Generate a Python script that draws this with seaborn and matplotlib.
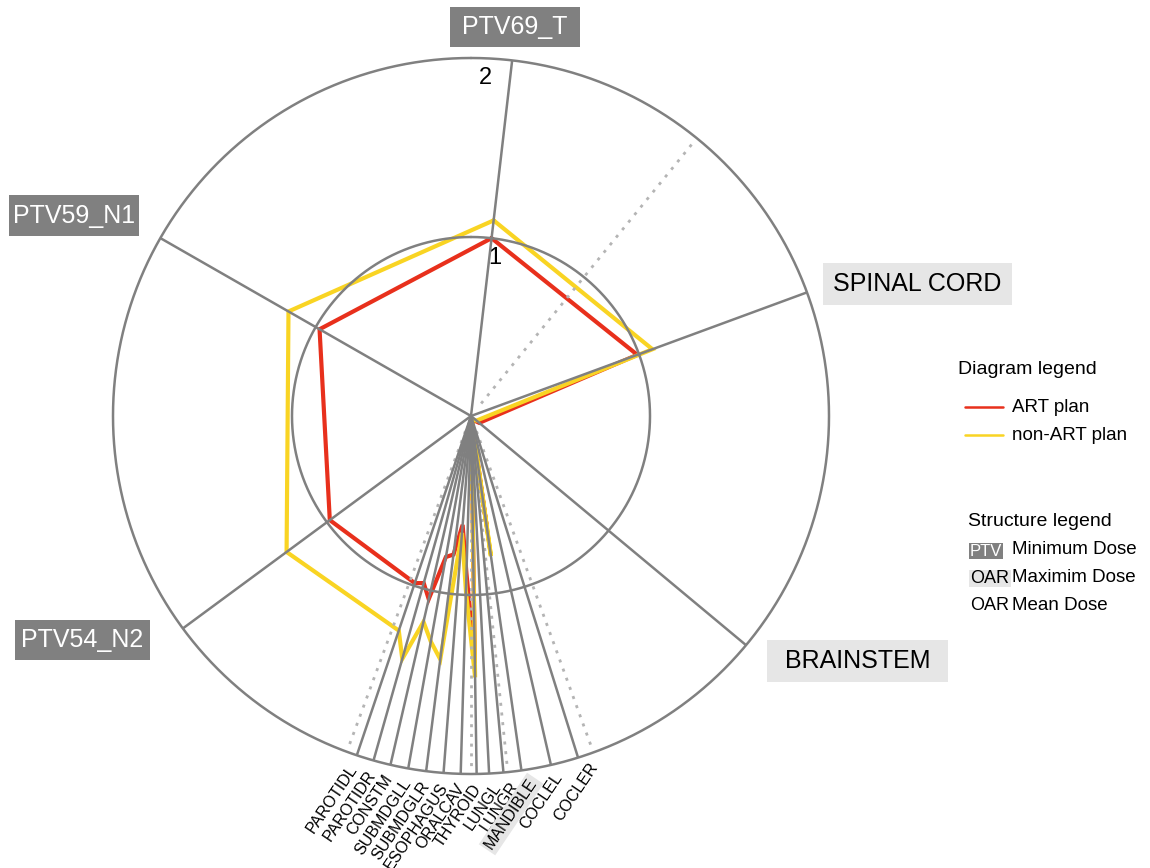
import numpy as np
import pandas as pd
import matplotlib
matplotlib.use("Agg")
import matplotlib.pyplot as plt
from matplotlib.patches import Rectangle
from matplotlib.lines import Line2D
import seaborn as sns

# ---- dose of each structure relative to its clinical objective ----
structures = ["PTV69_T", "SPINAL CORD", "BRAINSTEM",
              "PAROTIDL", "PAROTIDR", "CONSTM", "SUBMDGLL", "SUBMDGLR",
              "ESOPHAGUS", "ORALCAV", "THYROID", "LUNGL", "LUNGR",
              "MANDIBLE", "COCLEL", "COCLER",
              "PTV54_N2", "PTV59_N1"]
art_plan = [1.00, 0.99, 0.06,
            0.985, 0.97, 1.05, 0.80, 0.78,
            0.61, 0.88, 1.38, 0.03, 0.03,
            0.62, 0.02, 0.02,
            0.98, 0.975]
non_art_plan = [1.10, 1.08, 0.04,
                1.265, 1.41, 1.18, 1.28, 1.37,
                0.655, 0.98, 1.46, 0.03, 0.03,
                0.79, 0.02, 0.02,
                1.28, 1.175]
# dose metric scored on each spoke: PTV minimum, OAR maximum or OAR mean
metric = ["min", "max", "max",
          "mean", "mean", "mean", "mean", "mean",
          "mean", "mean", "mean", "mean", "mean",
          "max", "mean", "mean",
          "min", "min"]
ring_ticks = [1, 2]

# ---- layout: bearings in degrees, clockwise from 12 o'clock ----
spoke_bearing = [6.6, 69.8, 129.8,
                 198.6, 195.8, 193.0, 190.1, 187.2,
                 184.4, 181.65, 179.1, 177.1, 174.8,
                 171.9, 167.1, 162.6,
                 233.6, 299.8]
# fan labels are spread a little more evenly than their spokes
fan_label_bearing = [198.4, 195.5, 192.8, 189.9, 187.0,
                     184.1, 181.5, 178.9, 175.9, 173.1,
                     170.2, 166.2, 160.4]
guide_bearing = [39.1, 160.0, 174.1, 180.0, 200.3]

W, H = 1150, 868
RED = "#e8301c"
YELLOW = "#f9d423"
GRID = "#808080"
DARK_BOX = "#808080"
LIGHT_BOX = "#e6e6e6"

sns.set_theme(style="white")
plt.rcParams["font.family"] = ["Liberation Sans", "DejaVu Sans"]
plt.rcParams["text.color"] = "black"

fig = plt.figure(figsize=(W / 100, H / 100), dpi=100)


def fx(px):
    return px / W


def fy(py):
    return 1 - py / H


# polar axes centred on the diagram, outer ring = 2
cx, cy, rad = 471, 416, 358
ax = fig.add_axes([fx(cx - rad), fy(cy + rad), 2 * rad / W, 2 * rad / H],
                  projection="polar")
ax.set_theta_zero_location("N")
ax.set_theta_direction(-1)
ax.set_ylim(0, 2)

theta = np.deg2rad(spoke_bearing)
order = np.argsort(theta)

# dose polygons, closed back onto the first spoke
for values, color, z in [(art_plan, RED, 2), (non_art_plan, YELLOW, 3)]:
    t = theta[order]
    r = np.asarray(values)[order]
    df = pd.DataFrame({"theta": np.append(t, t[0] + 2 * np.pi),
                       "r": np.append(r, r[0])})
    sns.lineplot(data=df, x="theta", y="r", sort=False, estimator=None,
                 color=color, linewidth=3.0, ax=ax, zorder=z,
                 solid_joinstyle="miter")

# rings
ring_t = np.linspace(0, 2 * np.pi, 721)
for tick in ring_ticks:
    ax.plot(ring_t, np.full_like(ring_t, tick), color=GRID, lw=1.8,
            zorder=5, clip_on=False)

# spokes
for t in theta:
    ax.plot([t, t], [0, 2], color=GRID, lw=1.8, zorder=5,
            solid_capstyle="butt", clip_on=False)

# dotted guide lines
for b in guide_bearing:
    tb = np.deg2rad(b)
    ax.plot([tb, tb], [0.09, 1.96], color="#b4b4b4", lw=2.0, zorder=4,
            linestyle=(0, (1.1, 2.4)), dash_capstyle="butt")

# ring values
ax.text(np.deg2rad(2.4), 1.89, str(ring_ticks[1]), fontsize=17,
        ha="center", va="center", zorder=6)
ax.text(np.deg2rad(8.6), 0.89, str(ring_ticks[0]), fontsize=17,
        ha="center", va="center", zorder=6)

ax.set_axis_off()


def boxed_label(text, x0, y0, x1, y1, fc, tc, size):
    fig.patches.append(Rectangle((fx(x0), fy(y1)), fx(x1) - fx(x0),
                                 fy(y0) - fy(y1), transform=fig.transFigure,
                                 facecolor=fc, edgecolor="none", zorder=1))
    fig.text(fx((x0 + x1) / 2), fy((y0 + y1) / 2), text, color=tc,
             fontsize=size, ha="center", va="center", zorder=2)


# large spoke titles
big = {"PTV69_T": (450, 7, 580, 47),
       "SPINAL CORD": (823, 263, 1012, 305),
       "BRAINSTEM": (767, 640, 948, 682),
       "PTV54_N2": (15, 620, 150, 660),
       "PTV59_N1": (9, 195, 139, 236)}
for name, (x0, y0, x1, y1) in big.items():
    kind = metric[structures.index(name)]
    if kind == "min":
        boxed_label(name, x0, y0, x1, y1, DARK_BOX, "white", 18)
    else:
        boxed_label(name, x0, y0, x1, y1, LIGHT_BOX, "black", 18)

# fan of mean-dose / max-dose OAR labels
fan = [(n, k) for n, k in zip(structures, metric) if n not in big]
for (name, kind), b in zip(fan, fan_label_bearing):
    bbox = None
    if kind == "max":
        bbox = dict(boxstyle="square,pad=0.15", fc=LIGHT_BOX, ec="none")
    ax.text(np.deg2rad(b), 2.065, name, fontsize=11.5, rotation=56,
            rotation_mode="anchor", ha="right", va="center", bbox=bbox,
            clip_on=False, zorder=6)

# diagram legend
fig.text(fx(958), fy(370), "Diagram legend", fontsize=14, va="center")
for y, color, label in [(407, RED, "ART plan"), (435, YELLOW, "non-ART plan")]:
    fig.add_artist(Line2D([fx(965), fx(1003)], [fy(y), fy(y)], color=color,
                          lw=1.8, transform=fig.transFigure))
    fig.text(fx(1012), fy(y), label, fontsize=13.5, va="center")

# structure legend
fig.text(fx(968), fy(522), "Structure legend", fontsize=14, va="center")
boxed_label("PTV", 969, 543, 1003, 559, DARK_BOX, "white", 12)
fig.text(fx(1012), fy(550), "Minimum Dose", fontsize=13.5, va="center")
boxed_label("OAR", 969, 570, 1011, 587, LIGHT_BOX, "black", 13)
fig.text(fx(1012), fy(578), "Maximim Dose", fontsize=13.5, va="center")
fig.text(fx(990), fy(606), "OAR", fontsize=13, va="center", ha="center")
fig.text(fx(1012), fy(606), "Mean Dose", fontsize=13.5, va="center")

fig.savefig("out.png", dpi=100)
